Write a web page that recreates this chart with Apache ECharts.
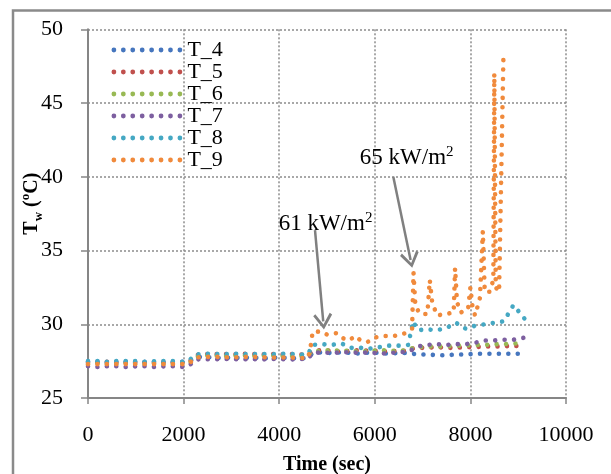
<!DOCTYPE html>
<html>
<head>
<meta charset="utf-8">
<script src="https://cdn.jsdelivr.net/npm/echarts@6/dist/echarts.min.js"></script>
<style>
html, body { margin: 0; padding: 0; background: #fff; overflow: hidden; }
#main { width: 611px; height: 474px; }
</style>
</head>
<body>
<div id="main"></div>
<script>
// time axis shared by T_4 .. T_8 (sec)
var baseTime = [0, 200, 400, 600, 800, 1000, 1200, 1400, 1600, 1800, 2000, 2100,
  2250, 2400, 2600, 2800, 3000, 3200, 3400, 3600, 3800, 4000, 4200, 4400, 4600,
  4700, 4900, 5100, 5300, 5500, 5700, 5900, 6100, 6300, 6500, 6700,
  6800, 6900, 7100, 7300, 7500, 7700, 7900, 8100, 8300, 8500, 8700, 8900, 9140];

var T_4 = [27.45, 27.45, 27.4, 27.45, 27.45, 27.4, 27.45, 27.45, 27.4, 27.45, 27.45, 27.45,
  27.75, 27.8, 27.75, 27.7, 27.75, 27.7, 27.75, 27.7, 27.7, 27.75, 27.7, 27.7, 27.7,
  28.05, 28.1, 28.05, 28.1, 28.05, 28.0, 28.1, 28.05, 28.0, 28.05, 28.05,
  28.0, 27.95, 27.95, 27.9, 27.9, 27.95, 27.95, 28.0, 28.0, 28.0, 28.0, 28.0, 28.0];
var T_5 = [27.4, 27.4, 27.45, 27.4, 27.4, 27.45, 27.4, 27.4, 27.45, 27.4, 27.4, 27.4,
  27.9, 28.0, 27.95, 28.0, 27.95, 28.0, 28.0, 27.95, 28.0, 27.95, 28.0, 27.95, 27.95,
  28.2, 28.25, 28.2, 28.15, 28.2, 28.25, 28.2, 28.2, 28.15, 28.2, 28.2,
  28.35, 28.4, 28.4, 28.45, 28.4, 28.4, 28.45, 28.45, 28.5, 28.5, 28.5, 28.55, 28.45];
var T_6 = [27.3, 27.35, 27.3, 27.3, 27.35, 27.3, 27.3, 27.35, 27.3, 27.3, 27.35, 27.3,
  27.8, 27.85, 27.9, 27.85, 27.85, 27.9, 27.85, 27.85, 27.9, 27.85, 27.85, 27.85, 27.8,
  28.15, 28.2, 28.25, 28.2, 28.2, 28.15, 28.2, 28.25, 28.2, 28.2, 28.25,
  28.4, 28.45, 28.5, 28.5, 28.5, 28.55, 28.55, 28.6, 28.6, 28.65, 28.65, 28.7, 28.7];
var T_7 = [27.15, 27.1, 27.15, 27.15, 27.1, 27.15, 27.15, 27.1, 27.15, 27.15, 27.1, 27.15,
  27.6, 27.65, 27.6, 27.65, 27.65, 27.6, 27.65, 27.6, 27.65, 27.65, 27.6, 27.65, 27.65,
  28.05, 28.1, 28.05, 28.1, 28.1, 28.05, 28.1, 28.0, 28.05, 28.1, 28.15,
  28.3, 28.5, 28.6, 28.65, 28.6, 28.65, 28.65, 28.75, 28.9, 28.9, 28.95, 28.95, 29.1];
var T_8 = [27.5, 27.5, 27.45, 27.5, 27.5, 27.5, 27.45, 27.5, 27.5, 27.5, 27.45, 27.5,
  27.95, 28.0, 28.0, 27.95, 28.0, 28.0, 27.95, 28.0, 27.95, 28.0, 28.0, 27.95, 27.95,
  28.6, 28.65, 28.6, 28.7, 28.4, 28.4, 28.35, 28.45, 28.55, 28.55, 28.6,
  30.2, 29.6, 29.65, 29.6, 29.75, 30.1, 29.7, 29.9, 30.0, 30.1, 30.2, 31.3, 30.35];

// T_9 has its own sampling (spikes)
var time9 = [0, 500, 1000, 1500, 2100,
  2250, 2600, 3000, 3400, 3800, 4200, 4600,
  4650, 4700, 4900, 5000, 5200, 5300, 5450, 5600, 5700, 5850, 6000, 6150, 6400, 6650, 6780,
  6810, 6850, 6950, 7100, 7150, 7200, 7300, 7500, 7650, 7680, 7720, 7800, 7950, 8000,
  8050, 8100, 8200, 8260, 8300, 8400, 8480, 8500, 8530, 8600, 8690];
var T_9 = [27.3, 27.3, 27.3, 27.3, 27.3,
  27.75, 27.8, 27.75, 27.8, 27.75, 27.75, 27.7,
  28.3, 29.5, 29.5, 29.3, 29.4, 29.1, 28.9, 29.2, 28.9, 28.8, 29.1, 29.2, 29.2, 29.4, 29.7,
  33.5, 31.2, 30.7, 30.7, 33.0, 31.5, 30.6, 30.7, 30.8, 33.8, 31.5, 30.8, 31.0, 32.5,
  31.0, 30.6, 31.8, 36.3, 32.2, 32.2, 33.0, 47.0, 32.5, 32.2, 48.0];

var names = ['T_4', 'T_5', 'T_6', 'T_7', 'T_8', 'T_9'];
var colors = ['#4676be', '#c0504d', '#98b954', '#7d5fa0', '#45a8c3', '#f08a3c'];

// annotation text and arrows (data coords)
var noteText = ['61 kW/m', '65 kW/m'];
var notePos = [[4969, 36.8], [6667, 41.3]];
var arrowFrom = [[4749, 36.39], [6387, 40.0]];
var arrowTo = [[4921, 30.19], [6749, 34.36]];

var font = 'Liberation Serif, Times New Roman, serif';

function pairs(t, v) {
  var out = [];
  for (var i = 0; i < t.length; i++) out.push([t[i], v[i]]);
  return out;
}

// dotted legend sample
var dotIcon = 'path://';
for (var i = 0; i < 8; i++) {
  var cx = i * 9.43;
  dotIcon += 'M' + cx + ',2.4 a2.4,2.4 0 1,0 4.8,0 a2.4,2.4 0 1,0 -4.8,0 ';
}
var chevron = 'path://M10,0 L20,13 L17.6,14.8 L10,4.6 L2.4,14.8 L0,13 Z';

var allData = [
  pairs(baseTime, T_4), pairs(baseTime, T_5), pairs(baseTime, T_6),
  pairs(baseTime, T_7), pairs(baseTime, T_8), pairs(time9, T_9)
];

var series = [];
for (var s = 0; s < 6; s++) {
  series.push({
    name: names[s],
    type: 'line',
    data: allData[s],
    showSymbol: false,
    symbol: 'none',
    color: colors[s],
    lineStyle: { width: 4.6, type: [0.01, 9.43], cap: 'round', color: colors[s] },
    z: 2 + s
  });
}

var arrows = [];
for (var k = 0; k < arrowFrom.length; k++) {
  arrows.push([{ coord: arrowFrom[k] }, { coord: arrowTo[k] }]);
}
var notes = [];
for (var k = 0; k < noteText.length; k++) {
  notes.push({ coord: notePos[k], label: { formatter: '{a|' + noteText[k] + '}{s|2}' } });
}

series[5].markLine = {
  silent: true,
  animation: false,
  symbol: ['none', chevron],
  symbolSize: [19, 16],
  lineStyle: { color: '#808080', width: 2.5, type: 'solid' },
  label: { show: false },
  emphasis: { disabled: true },
  data: arrows
};
series[5].markPoint = {
  silent: true,
  animation: false,
  symbol: 'circle',
  symbolSize: 0,
  label: {
    show: true,
    position: 'inside',
    rich: {
      a: { fontFamily: font, fontSize: 23, lineHeight: 26, color: '#000' },
      s: { fontFamily: font, fontSize: 15, lineHeight: 15, verticalAlign: 'top', color: '#000' }
    }
  },
  data: notes
};

function plain(v) { return String(v); }

var chart = echarts.init(document.getElementById('main'));
chart.setOption({
  animation: false,
  backgroundColor: '#fff',
  graphic: [{
    type: 'polyline',
    shape: { points: [[13, 800], [13, 10.5], [800, 10.5]] },
    style: { fill: 'none', stroke: '#8a8a8a', lineWidth: 2.5 },
    silent: true
  }],
  grid: { left: 88, right: 45, top: 29.3, bottom: 76, outerBoundsMode: 'none', containLabel: false },
  legend: {
    orient: 'vertical',
    left: 106.5,
    top: 34,
    icon: dotIcon,
    itemWidth: 71,
    itemHeight: 4.8,
    itemGap: 0,
    selectedMode: false,
    data: names,
    textStyle: { fontFamily: font, fontSize: 22, lineHeight: 21.8, color: '#000' }
  },
  xAxis: {
    type: 'value',
    min: 0, max: 10000, interval: 2000,
    name: 'Time (sec)',
    nameLocation: 'middle',
    nameGap: 57,
    nameMoveOverlap: false,
    nameTextStyle: { fontFamily: font, fontSize: 20, fontWeight: 'bold', color: '#000' },
    axisLine: { lineStyle: { color: '#868686', width: 2 } },
    axisTick: { show: true, length: 6, lineStyle: { color: '#868686', width: 1.5 } },
    axisLabel: { fontFamily: font, fontSize: 22, color: '#000', margin: 26, formatter: plain },
    splitLine: { show: true, lineStyle: { color: '#8c8c8c', width: 1.5, type: [2, 2] } }
  },
  yAxis: {
    type: 'value',
    min: 25, max: 50, interval: 5,
    name: '{b|T}{sub|w}{b| (}{sup|o}{b|C)}',
    nameLocation: 'middle',
    nameGap: 43,
    nameRotate: 90,
    nameMoveOverlap: false,
    nameTextStyle: {
      padding: [0, 0, 0, 20],
      rich: {
        b: { fontFamily: font, fontSize: 20, fontWeight: 'bold', lineHeight: 26, color: '#000' },
        sub: { fontFamily: font, fontSize: 13, fontWeight: 'bold', lineHeight: 13, verticalAlign: 'bottom', color: '#000' },
        sup: { fontFamily: font, fontSize: 13, fontWeight: 'bold', lineHeight: 13, verticalAlign: 'top', color: '#000' }
      }
    },
    axisLine: { show: true, lineStyle: { color: '#868686', width: 2 } },
    axisTick: { show: true, length: 7, lineStyle: { color: '#868686', width: 1.5 } },
    axisLabel: { fontFamily: font, fontSize: 22, color: '#000', margin: 25, formatter: plain },
    splitLine: { show: true, lineStyle: { color: '#8c8c8c', width: 1.5, type: [2, 2] } }
  },
  series: series
});
</script>
</body>
</html>
